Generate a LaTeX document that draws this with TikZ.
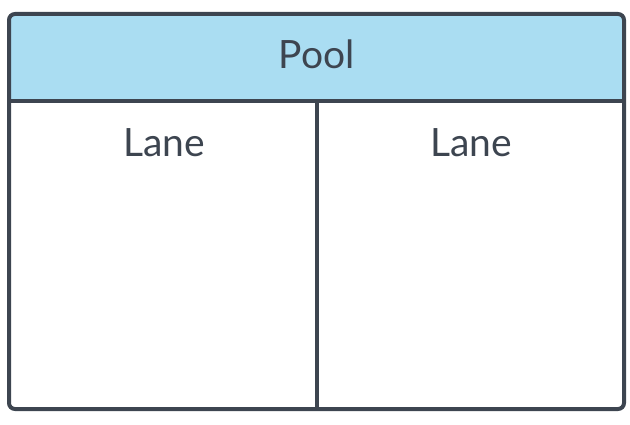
\documentclass[tikz,border=0pt]{standalone}
\usepackage{fontspec}
\setmainfont{Lato}
\usepackage{tikz}
\usetikzlibrary{positioning}
\usetikzlibrary{calc}
\definecolor{poolblue}{HTML}{AADDF2}
\definecolor{lineslate}{HTML}{3D4550}
\tikzstyle{poolband}=[rectangle,fill=poolblue,draw=none,inner sep=0pt]
\tikzstyle{border} = [draw=lineslate,line width=4pt]
\tikzstyle{title} = [anchor=base,text=lineslate,inner sep=0pt,font=\fontsize{39}{42}\selectfont]

\begin{document}
\begin{tikzpicture}[x=1pt,y=1pt]

  \useasboundingbox (0,0) rectangle (630,424);

  % pool header, clipped to the rounded frame
  \begin{scope}
    \clip[rounded corners=6pt] (9,15) rectangle (624,410);
    \node[poolband,minimum width=615pt,minimum height=87pt] (band) at (316.5,366.5) {};
  \end{scope}

  \foreach \x/\y/\name/\label in {316.5/355/pool/Pool, 164/267/laneA/Lane, 471/267/laneB/Lane}
         \node[title] (\name) at (\x, \y) {\label};

  \coordinate (split) at (317,15);

  \draw[border,rounded corners=6pt] (9,15) rectangle (624,410);
  \draw[border] (band.south west) -- (band.south east);
  \draw[border] (band.south -| split) -- (split);

\end{tikzpicture}
\end{document}
